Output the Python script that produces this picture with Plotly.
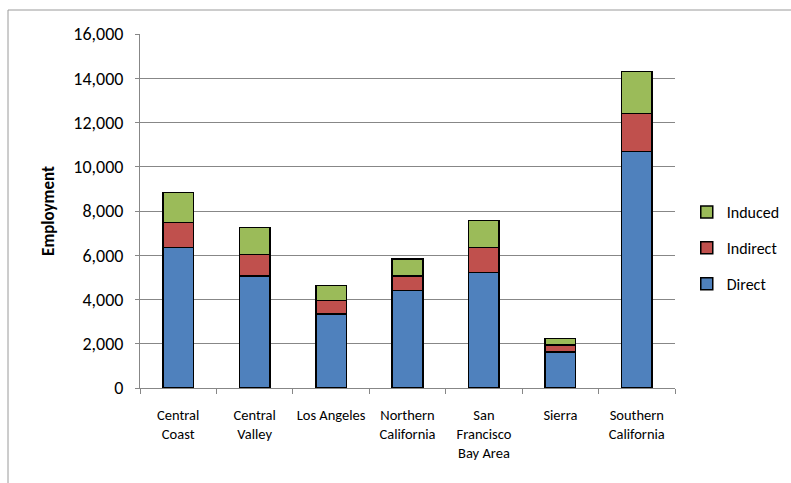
import plotly.graph_objects as go

# Regional employment impacts, stacked by effect type
regions = ["Central<br>Coast", "Central<br>Valley", "Los Angeles", "Northern<br>California",
           "San<br>Francisco<br>Bay Area", "Sierra", "Southern<br>California"]
direct = [6340, 5060, 3340, 4400, 5230, 1630, 10700]
indirect = [1130, 980, 610, 660, 1110, 310, 1710]
induced = [1360, 1220, 690, 780, 1220, 290, 1900]
y_ticks = [0, 2000, 4000, 6000, 8000, 10000, 12000, 14000, 16000]

FONT = "Calibri, Carlito, Lato, 'Open Sans', sans-serif"
GRID = "#878787"

fig = go.Figure()
# legendrank puts the top stack segment first in the legend
for name, vals, color, rank in [("Direct", direct, "#4F81BD", 3),
                                ("Indirect", indirect, "#C0504D", 2),
                                ("Induced", induced, "#9BBB59", 1)]:
    fig.add_trace(go.Bar(
        name=name, x=regions, y=vals, legendgroup=name, legendrank=rank,
        marker=dict(color=color, line=dict(color="black", width=1.5)),
    ))

W, H = 791, 483
L, R, T, B = 140, 116, 34, 95
pw, ph = W - L - R, H - T - B

fig.update_layout(
    width=W, height=H,
    barmode="stack", bargap=0.6,
    margin=dict(l=L, r=R, t=T, b=B, autoexpand=False),
    paper_bgcolor="white", plot_bgcolor="white",
    font=dict(family=FONT, color="black"),
    showlegend=True,
    legend=dict(
        x=1.022, y=0.395, xanchor="left", yanchor="middle",
        traceorder="grouped", tracegroupgap=12,
        font=dict(size=16, family=FONT), itemwidth=30,
    ),
    xaxis=dict(
        showline=True, linecolor=GRID, linewidth=1,
        ticks="outside", tickson="boundaries", ticklen=5, tickcolor=GRID,
        tickfont=dict(size=14.5), tickangle=0, showgrid=False,
        ticklabelstandoff=14, automargin=False,
    ),
    yaxis=dict(
        range=[0, 16000], tickvals=y_ticks, tickformat=",d",
        showline=True, linecolor=GRID, linewidth=1,
        ticks="outside", ticklen=4, tickcolor=GRID,
        showgrid=True, gridcolor=GRID, gridwidth=1, zeroline=False,
        tickfont=dict(size=18), automargin=False, ticklabelstandoff=8,
        title=dict(text="<b>Employment</b>", font=dict(size=17), standoff=14),
    ),
    shapes=[
        # outer chart frame (left and top edges)
        dict(type="line", xref="paper", yref="paper",
             x0=(8 - L) / pw, x1=(8 - L) / pw,
             y0=(H - B - 10) / ph, y1=-B / ph,
             line=dict(color="#9a9a9a", width=1)),
        dict(type="line", xref="paper", yref="paper",
             x0=(8 - L) / pw, x1=(W - L) / pw,
             y0=(H - B - 10) / ph, y1=(H - B - 10) / ph,
             line=dict(color="#9a9a9a", width=1)),
    ],
)

fig.write_html("out.html")
